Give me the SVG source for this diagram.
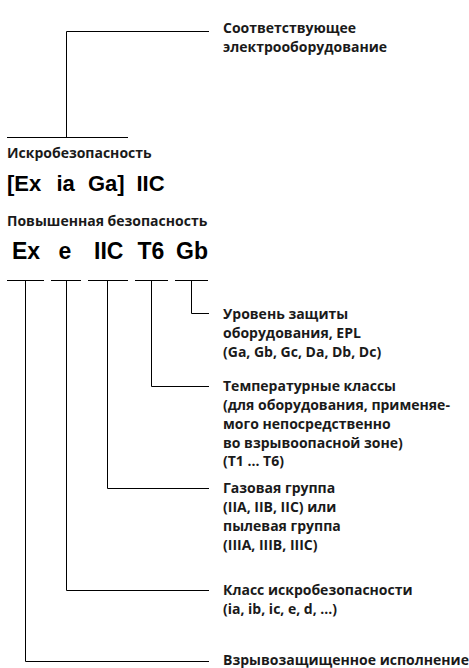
<svg xmlns="http://www.w3.org/2000/svg" width="469" height="668" viewBox="0 0 469 668">
<style>
.t{font-family:"Open Sans","Noto Sans","DejaVu Sans",sans-serif;font-weight:bold;font-size:14px;fill:#1a1a1a}
.c{font-family:"Liberation Sans",Arial,sans-serif;font-weight:bold;fill:#000}
.ln{stroke:#000;stroke-width:1;fill:none}
</style>
<rect width="469" height="668" fill="#fff"/>
<g id="connectors">
<polyline class="ln" points="209,31.5 66.5,31.5 66.5,137.5"/>
<line class="ln" x1="7" y1="137.5" x2="128" y2="137.5"/>
<line class="ln" x1="7" y1="280.5" x2="44" y2="280.5"/>
<line class="ln" x1="51" y1="280.5" x2="81" y2="280.5"/>
<line class="ln" x1="88" y1="280.5" x2="128" y2="280.5"/>
<line class="ln" x1="135" y1="280.5" x2="168" y2="280.5"/>
<line class="ln" x1="175" y1="280.5" x2="208" y2="280.5"/>
<polyline class="ln" points="191.5,280.5 191.5,313.5 209,313.5"/>
<polyline class="ln" points="151.5,280.5 151.5,386.5 209,386.5"/>
<polyline class="ln" points="107.5,280.5 107.5,488.5 209,488.5"/>
<polyline class="ln" points="66.5,280.5 66.5,590.5 209,590.5"/>
<polyline class="ln" points="25.5,280.5 25.5,661.5 209,661.5"/>
</g>
<g id="node-equipment">
<text class="t" x="223" y="33">Соответствующее</text>
<text class="t" x="223" y="52">электрооборудование</text>
</g>
<g id="node-intrinsic">
<text class="t" x="7" y="158">Искробезопасность</text>
<text class="c" y="191" font-size="22"><tspan x="7">[Ex</tspan><tspan x="56.5">ia</tspan><tspan x="88">Ga]</tspan><tspan x="136.5">IIC</tspan></text>
</g>
<g id="node-increased">
<text class="t" x="7" y="226">Повышенная безопасность</text>
<text class="c" font-size="23" y="259"><tspan x="12">Ex</tspan><tspan x="58.5">e</tspan><tspan x="94">IIC</tspan><tspan x="137.5">T6</tspan><tspan x="176">Gb</tspan></text>
</g>
<g id="node-epl">
<text class="t" x="223" y="319">Уровень защиты</text>
<text class="t" x="223" y="338">оборудования, EPL</text>
<text class="t" x="223" y="357">(Ga, Gb, Gc, Da, Db, Dc)</text>
</g>
<g id="node-temp">
<text class="t" x="223" y="391">Температурные классы</text>
<text class="t" x="223" y="410">(для оборудования, применяе-</text>
<text class="t" x="223" y="429">мого непосредственно</text>
<text class="t" x="223" y="448">во взрывоопасной зоне)</text>
<text class="t" x="223" y="466">(T1 ... T6)</text>
</g>
<g id="node-gas">
<text class="t" x="223" y="493">Газовая группа</text>
<text class="t" x="223" y="512">(IIA, IIB, IIC) или</text>
<text class="t" x="223" y="531">пылевая группа</text>
<text class="t" x="223" y="550">(IIIA, IIIB, IIIC)</text>
</g>
<g id="node-class">
<text class="t" x="223" y="595">Класс искробезопасности</text>
<text class="t" x="223" y="614">(ia, ib, ic, e, d, ...)</text>
</g>
<g id="node-ex">
<text class="t" x="223" y="665">Взрывозащищенное исполнение</text>
</g>
</svg>
